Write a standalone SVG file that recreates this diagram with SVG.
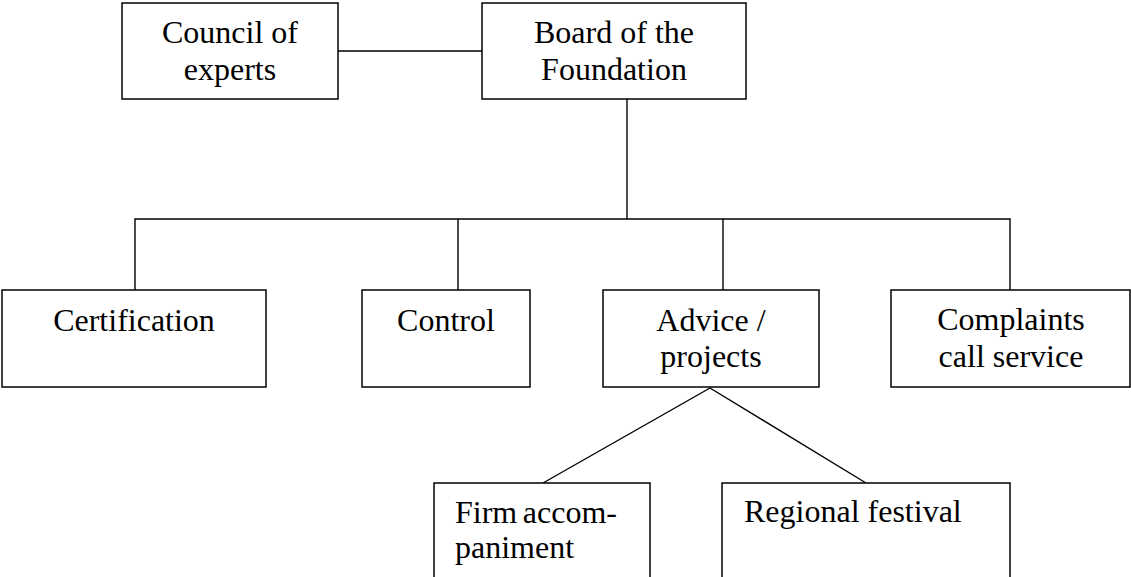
<svg xmlns="http://www.w3.org/2000/svg" width="1131" height="577" viewBox="0 0 1131 577">
<style>
.box{fill:#fff;stroke:#000;stroke-width:1.5}
.ln{fill:none;stroke:#000;stroke-width:1.4}
text{font-family:"Liberation Serif","Times New Roman",serif;font-size:32px;fill:#000}
.c{text-anchor:middle}
</style>
<rect width="1131" height="577" fill="#fff"/>
<g id="connectors">
<line class="ln" x1="338" y1="51" x2="482" y2="51"/>
<line class="ln" x1="627" y1="99" x2="627" y2="219"/>
<polyline class="ln" points="135,290 135,219 1010,219 1010,290"/>
<line class="ln" x1="458" y1="219" x2="458" y2="290"/>
<line class="ln" x1="723" y1="219" x2="723" y2="290"/>
<line class="ln" x1="710" y1="388" x2="543" y2="483"/>
<line class="ln" x1="710" y1="388" x2="866" y2="483"/>
</g>
<g id="council">
<rect class="box" x="122" y="3" width="216" height="96"/>
<text class="c" x="230" y="43">Council of</text>
<text class="c" x="230" y="80">experts</text>
</g>
<g id="board">
<rect class="box" x="482" y="3" width="264" height="96"/>
<text class="c" x="614" y="43">Board of the</text>
<text class="c" x="614" y="80">Foundation</text>
</g>
<g id="certification">
<rect class="box" x="2" y="290" width="264" height="97"/>
<text class="c" x="134" y="331">Certification</text>
</g>
<g id="control">
<rect class="box" x="362" y="290" width="168" height="97"/>
<text class="c" x="446" y="331">Control</text>
</g>
<g id="advice">
<rect class="box" x="603" y="290" width="216" height="97"/>
<text class="c" x="711" y="331">Advice /</text>
<text class="c" x="711" y="367">projects</text>
</g>
<g id="complaints">
<rect class="box" x="891" y="290" width="239" height="97"/>
<text class="c" x="1011" y="330">Complaints</text>
<text class="c" x="1011" y="367">call service</text>
</g>
<g id="firm">
<rect class="box" x="434" y="483" width="216" height="130"/>
<text x="455" y="523">Firm</text>
<text x="617" y="523" text-anchor="end">accom-</text>
<text x="455" y="558">paniment</text>
</g>
<g id="regional">
<rect class="box" x="722" y="483" width="288" height="130"/>
<text x="744" y="522">Regional festival</text>
</g>
</svg>
